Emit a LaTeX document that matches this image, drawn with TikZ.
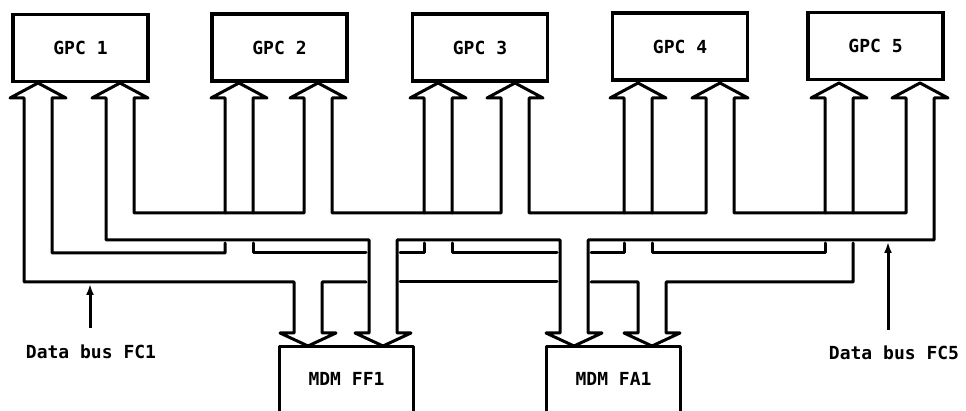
\documentclass[tikz,border=0pt]{standalone}
\usepackage{fontspec}
\setmonofont{DejaVu Sans Mono}
\usepackage{tikz}
\usetikzlibrary{arrows.meta}

\begin{document}
\begin{tikzpicture}[x=1pt, y=-1pt,
  bus/.style={line width=3pt, line join=round, line cap=round},
  boxline/.style={line width=3.2pt, line join=round, line cap=round},
  gpcbox/.style={draw, line width=3.2pt, minimum width=135pt, minimum height=67pt,
    inner sep=0pt, font=\ttfamily\bfseries\fontsize{18}{20}\selectfont},
  mdmbox/.style={minimum width=133pt, minimum height=64pt, inner sep=0pt,
    font=\ttfamily\bfseries\fontsize{18}{20}\selectfont},
  lbl/.style={inner sep=0pt, font=\ttfamily\bfseries\fontsize{18}{20}\selectfont},
  busarrow/.style={line width=3pt, -{Latex[length=11pt,width=8pt]}}]
\fill[white] (0,0) rectangle (966,411);
\useasboundingbox (0,0) rectangle (966,411);
% computers
\node[gpcbox] (gpc1) at (80.5,48) {GPC 1};
\node[gpcbox] (gpc2) at (279.5,47.5) {GPC 2};
\node[gpcbox] (gpc3) at (480,47.5) {GPC 3};
\node[gpcbox] (gpc4) at (680,46.5) {GPC 4};
\node[gpcbox] (gpc5) at (875.5,46) {GPC 5};
% multiplexer/demultiplexers (open at the bottom edge)
\node[mdmbox] (ff1) at (346.5,379) {MDM FF1};
\draw[boxline] (ff1.south west) -- (ff1.north west) -- (ff1.north east) -- (ff1.south east);
\node[mdmbox] (fa1) at (613.5,379) {MDM FA1};
\draw[boxline] (fa1.south west) -- (fa1.north west) -- (fa1.north east) -- (fa1.south east);
% bus FC5, one closed outline
\draw[bus] (304,213) -- (134,213) -- (134,98) -- (148,98) -- (120,83) -- (92,98) -- (106,98)
  -- (106,240) -- (369,240) -- (369,333) -- (355,333) -- (383,346) -- (411,333) -- (397,333)
  -- (397,240) -- (560,240) -- (560,333) -- (546,333) -- (574,346) -- (602,333) -- (588,333)
  -- (588,240) -- (934,240) -- (934,98) -- (948,98) -- (920,83) -- (892,98) -- (906,98)
  -- (906,213) -- (734,213) -- (734,98) -- (748,98) -- (720,83) -- (692,98) -- (706,98)
  -- (706,213) -- (529,213) -- (529,98) -- (543,98) -- (515,83) -- (487,98) -- (501,98)
  -- (501,213) -- (332,213) -- (332,98) -- (346,98) -- (318,83) -- (290,98) -- (304,98) -- cycle;
% bus FC1, broken where it crosses
\draw[bus] (366,282) -- (322,282) -- (322,333) -- (336,333) -- (308,346) -- (280,333) -- (294,333)
  -- (294,282) -- (24,282) -- (24,98) -- (10,98) -- (38,83) -- (66,98) -- (52,98)
  -- (52,253) -- (225,253) -- (225,243);
\draw[bus] (225,213) -- (225,98) -- (211,98) -- (239,83) -- (267,98) -- (253,98) -- (253,213);
\draw[bus] (253,243) -- (253,253) -- (366,253);
\draw[bus] (400,253) -- (424,253) -- (424,243);
\draw[bus] (424,213) -- (424,98) -- (410,98) -- (438,83) -- (466,98) -- (452,98) -- (452,213);
\draw[bus] (452,243) -- (452,253) -- (557,253);
\draw[bus] (591,253) -- (624,253) -- (624,243);
\draw[bus] (624,213) -- (624,98) -- (610,98) -- (638,83) -- (666,98) -- (652,98) -- (652,213);
\draw[bus] (652,243) -- (652,253) -- (825,253) -- (825,243);
\draw[bus] (825,213) -- (825,98) -- (811,98) -- (839,83) -- (867,98) -- (853,98) -- (853,213);
\draw[bus] (853,243) -- (853,282) -- (666,282) -- (666,333) -- (680,333) -- (652,346) -- (624,333)
  -- (638,333) -- (638,282) -- (591,282);
\draw[bus] (557,282) -- (400,282);
% bus labels
\node[lbl, anchor=north] (fc1lbl) at (91,345) {Data bus FC1};
\node[lbl, anchor=north] (fc5lbl) at (894,346) {Data bus FC5};
\coordinate (fc1pt) at (90,284);
\coordinate (fc5pt) at (888,242);
\draw[busarrow, shorten <=17pt] (fc1lbl.north -| fc1pt) -- (fc1pt);
\draw[busarrow, shorten <=16pt] (fc5lbl.north -| fc5pt) -- (fc5pt);
\end{tikzpicture}
\end{document}
